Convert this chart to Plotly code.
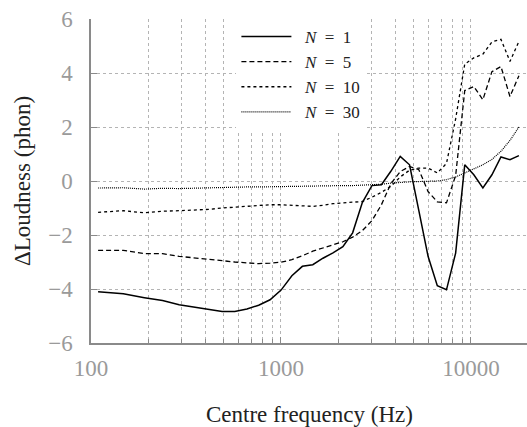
import plotly.graph_objects as go

# Centre frequencies (Hz), read from the vertex positions
freq = [109, 148, 191, 238, 291, 351, 416, 490, 571, 662, 763, 876, 1001, 1141,
        1296, 1470, 1663, 1878, 2117, 2383, 2680, 3010, 3378, 3787, 4243, 4750,
        5316, 5945, 6651, 7432, 8304, 9272, 10351, 11553, 12890, 14380, 16038, 17883]

n1 = [-4.10, -4.18, -4.32, -4.43, -4.58, -4.66, -4.75, -4.83, -4.83, -4.74,
      -4.60, -4.40, -4.04, -3.51, -3.16, -3.10, -2.86, -2.66, -2.43, -1.92,
      -0.80, -0.17, -0.14, 0.36, 0.91, 0.60, -1.10, -2.79, -3.88, -4.03,
      -2.67, 0.60, 0.23, -0.26, 0.23, 0.89, 0.79, 0.94]

n5 = [-2.57, -2.57, -2.69, -2.69, -2.79, -2.84, -2.90, -2.95, -3.00, -3.04,
      -3.06, -3.04, -3.01, -2.91, -2.77, -2.60, -2.49, -2.36, -2.25, -2.08,
      -1.84, -1.47, -0.88, -0.10, 0.35, 0.54, 0.42, -0.39, -0.77, -0.81,
      0.20, 3.35, 3.50, 3.01, 4.05, 4.24, 3.13, 3.90]

n10 = [-1.16, -1.10, -1.18, -1.12, -1.10, -1.08, -1.05, -1.00, -0.97, -0.93,
       -0.90, -0.88, -0.88, -0.90, -0.92, -0.94, -0.90, -0.84, -0.81, -0.79,
       -0.76, -0.60, -0.42, -0.20, 0.15, 0.40, 0.48, 0.48, 0.30, 0.65,
       2.30, 4.33, 4.56, 4.70, 5.15, 5.25, 4.43, 5.17]

n30 = [-0.26, -0.25, -0.30, -0.27, -0.28, -0.26, -0.25, -0.24, -0.23, -0.22,
       -0.22, -0.21, -0.20, -0.20, -0.20, -0.19, -0.19, -0.18, -0.17, -0.17,
       -0.16, -0.15, -0.12, -0.08, -0.05, -0.03, -0.02, 0.00, 0.00, 0.05,
       0.15, 0.30, 0.45, 0.60, 0.80, 1.10, 1.50, 2.00]

N_values = [1, 5, 10, 30]
dashes = ["solid", "5px,3px", "3px,3px", "1px,1px"]
widths = [1.5, 1.3, 1.3, 1.2]
all_series = [n1, n5, n10, n30]

x_ticks = [100, 1000, 10000]
y_ticks = [-6, -4, -2, 0, 2, 4, 6]
y_tick_text = ["\u22126", "\u22124", "\u22122", "0", "2", "4", "6"]

FONT = "Liberation Serif"
GRID = "#b4b4b4"
AX = "#8a8a8a"
TICKFONT = "#9a9a9a"
TITLE = "#222222"

fig = go.Figure()
for n, vals, dash, w in zip(N_values, all_series, dashes, widths):
    fig.add_trace(go.Scatter(
        x=freq, y=vals, mode="lines",
        name=f"\u2002<i>N</i>\u2002=\u2002{n}",
        line=dict(color="black", width=w, dash=dash)))

fig.update_layout(
    width=527, height=427,
    margin=dict(l=91, r=0, t=19, b=84, autoexpand=False),
    paper_bgcolor="white", plot_bgcolor="white",
    font=dict(family=FONT, size=23, color=TITLE),
    showlegend=True,
    legend=dict(x=0.3335, y=1.0, xanchor="left", yanchor="top",
                bgcolor="white", borderwidth=0,
                font=dict(family=FONT, size=17, color=TITLE),
                itemwidth=50, tracegroupgap=0),
    annotations=[
        dict(text="Centre frequency (Hz)", xref="paper", yref="paper",
             x=0.5, y=-0.2213, xanchor="center", yanchor="middle",
             showarrow=False, font=dict(family=FONT, size=23, color=TITLE)),
        dict(text="\u0394Loudness (phon)", xref="paper", yref="paper",
             x=-0.1583, y=0.5, xanchor="center", yanchor="middle", textangle=-90,
             showarrow=False, font=dict(family=FONT, size=23, color=TITLE)),
    ],
)

fig.update_xaxes(
    type="log", range=[2, 4.2949], automargin=False,
    tickvals=x_ticks, ticktext=[str(v) for v in x_ticks],
    tickfont=dict(color=TICKFONT, size=23, family=FONT),
    showline=True, linecolor=AX, linewidth=1.5, mirror=False,
    ticks="inside", ticklen=6, tickcolor=AX, tickwidth=1,
    ticklabelstandoff=4,
    showgrid=True, gridcolor=GRID, griddash="dot", gridwidth=1,
    minor=dict(dtick="D1", showgrid=True, gridcolor=GRID, griddash="dot",
               gridwidth=1, ticks="inside", ticklen=4, tickcolor=AX),
    zeroline=False,
)

fig.update_yaxes(
    range=[-6, 6], automargin=False,
    tickvals=y_ticks, ticktext=y_tick_text,
    tickfont=dict(color=TICKFONT, size=23, family=FONT),
    showline=True, linecolor=AX, linewidth=1.5, mirror=False,
    ticks="inside", ticklen=6, tickcolor=AX, tickwidth=1,
    ticklabelstandoff=12,
    showgrid=True, gridcolor=GRID, griddash="dot", gridwidth=1,
    zeroline=False,
)

fig.write_html("out.html",
               config={"displayModeBar": False},
               post_script="document.body.style.margin='0';document.body.style.overflow='hidden';")
